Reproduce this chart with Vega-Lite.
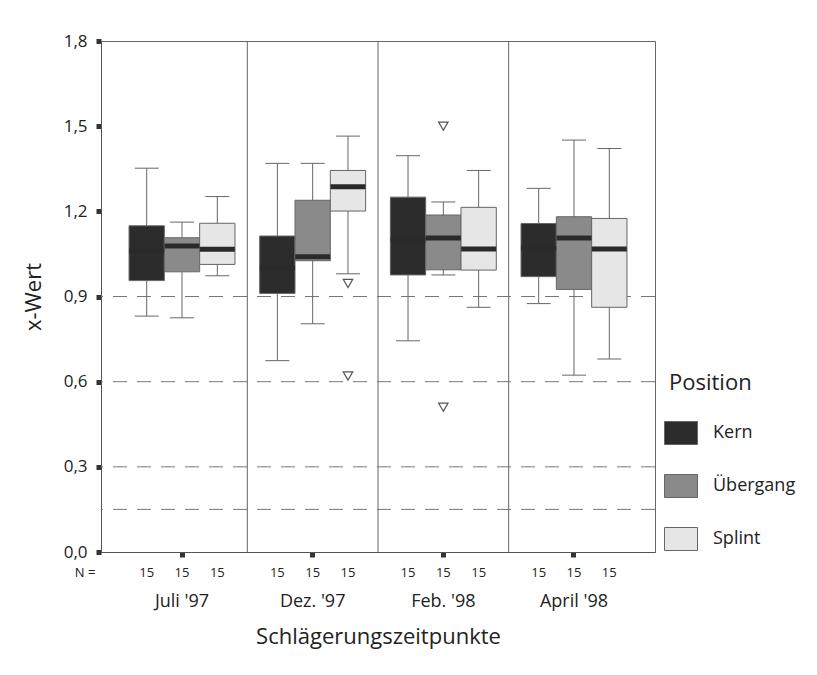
{
  "$schema": "https://vega.github.io/schema/vega-lite/v6.json",
  "width": 554,
  "height": 511,
  "autosize": {"type": "none"},
  "padding": {"left": 101, "top": 41, "right": 162, "bottom": 123},
  "background": "white",
  "config": {
    "font": "Open Sans",
    "view": {"stroke": "#666", "strokeWidth": 1},
    "axis": {"domainColor": "#555", "tickColor": "#333", "labelColor": "#222", "titleColor": "#222", "labelFont": "Open Sans", "titleFont": "Open Sans", "titleFontWeight": "normal", "grid": false},
    "axisX": {"tickSize": 5, "tickWidth": 5, "labelFontSize": 18, "labelPadding": 35, "titleFontSize": 22, "titlePadding": 16, "labelAngle": 0},
    "axisY": {"tickSize": 5, "tickWidth": 5, "labelFontSize": 17, "labelPadding": 9, "titleFontSize": 22, "titlePadding": 18},
    "legend": {"titleFontSize": 22, "titleFontWeight": "normal", "titleColor": "#222", "labelFontSize": 18, "labelColor": "#222", "titleFont": "Open Sans", "labelFont": "Open Sans"}
  },
  "datasets": {
    "boxes": [
      {"group": "Juli '97", "pos": "Kern", "lo": 0.831, "q1": 0.956, "med": 1.06, "q3": 1.149, "hi": 1.352, "n": 15},
      {"group": "Juli '97", "pos": "Übergang", "lo": 0.825, "q1": 0.987, "med": 1.078, "q3": 1.107, "hi": 1.162, "n": 15},
      {"group": "Juli '97", "pos": "Splint", "lo": 0.973, "q1": 1.013, "med": 1.066, "q3": 1.158, "hi": 1.252, "n": 15},
      {"group": "Dez. '97", "pos": "Kern", "lo": 0.674, "q1": 0.911, "med": 1.0, "q3": 1.113, "hi": 1.369, "n": 15},
      {"group": "Dez. '97", "pos": "Übergang", "lo": 0.804, "q1": 1.026, "med": 1.04, "q3": 1.239, "hi": 1.369, "n": 15},
      {"group": "Dez. '97", "pos": "Splint", "lo": 0.98, "q1": 1.201, "med": 1.287, "q3": 1.344, "hi": 1.465, "n": 15},
      {"group": "Feb. '98", "pos": "Kern", "lo": 0.744, "q1": 0.976, "med": 1.1, "q3": 1.25, "hi": 1.396, "n": 15},
      {"group": "Feb. '98", "pos": "Übergang", "lo": 0.976, "q1": 0.994, "med": 1.106, "q3": 1.187, "hi": 1.233, "n": 15},
      {"group": "Feb. '98", "pos": "Splint", "lo": 0.862, "q1": 0.993, "med": 1.067, "q3": 1.214, "hi": 1.344, "n": 15},
      {"group": "April '98", "pos": "Kern", "lo": 0.875, "q1": 0.97, "med": 1.07, "q3": 1.157, "hi": 1.281, "n": 15},
      {"group": "April '98", "pos": "Übergang", "lo": 0.623, "q1": 0.925, "med": 1.106, "q3": 1.181, "hi": 1.451, "n": 15},
      {"group": "April '98", "pos": "Splint", "lo": 0.68, "q1": 0.862, "med": 1.067, "q3": 1.175, "hi": 1.421, "n": 15}
    ],
    "outliers": [
      {"group": "Dez. '97", "pos": "Splint", "value": 0.946},
      {"group": "Dez. '97", "pos": "Splint", "value": 0.62},
      {"group": "Feb. '98", "pos": "Übergang", "value": 1.5},
      {"group": "Feb. '98", "pos": "Übergang", "value": 0.51}
    ],
    "refs": [{"y": 0.15}, {"y": 0.3}, {"y": 0.6}, {"y": 0.9}],
    "seps": [{"group": "Dez. '97"}, {"group": "Feb. '98"}, {"group": "April '98"}],
    "nlab": [{"group": "Juli '97", "label": "N ="}]
  },
  "layer": [
    {
      "data": {"name": "refs"},
      "mark": {"type": "rule", "color": "#777", "strokeWidth": 1, "strokeDash": [14, 10]},
      "encoding": {
        "y": {"field": "y", "type": "quantitative", "scale": {"domain": [0, 1.8], "nice": false, "zero": true}, "axis": {"values": [0, 0.3, 0.6, 0.9, 1.2, 1.5, 1.8], "labelExpr": "replace(format(datum.value, '.1f'), '.', ',')"}, "title": "x-Wert"}
      }
    },
    {
      "data": {"name": "seps"},
      "mark": {"type": "rule", "color": "#666", "strokeWidth": 1},
      "encoding": {
        "x": {"field": "group", "type": "nominal", "bandPosition": 0, "sort": ["Juli '97", "Dez. '97", "Feb. '98", "April '98"], "scale": {"domain": ["Juli '97", "Dez. '97", "Feb. '98", "April '98"], "paddingInner": 0, "paddingOuter": 0.12}, "title": "Schlägerungszeitpunkte"}
      }
    },
    {
      "data": {"name": "boxes"},
      "mark": {"type": "rule", "color": "#666", "strokeWidth": 1},
      "encoding": {
        "x": {"field": "group", "type": "nominal", "sort": ["Juli '97", "Dez. '97", "Feb. '98", "April '98"], "title": "Schlägerungszeitpunkte"},
        "xOffset": {"field": "pos", "type": "nominal", "sort": ["Kern", "Übergang", "Splint"], "scale": {"domain": ["Kern", "Übergang", "Splint"], "paddingInner": 0, "paddingOuter": 0.35}},
        "y": {"field": "lo", "type": "quantitative", "title": "x-Wert"},
        "y2": {"field": "hi"}
      }
    },
    {
      "data": {"name": "boxes"},
      "mark": {"type": "tick", "color": "#666", "thickness": 1, "size": 24, "opacity": 1},
      "encoding": {
        "x": {"field": "group", "type": "nominal", "sort": ["Juli '97", "Dez. '97", "Feb. '98", "April '98"], "title": "Schlägerungszeitpunkte"},
        "xOffset": {"field": "pos", "type": "nominal", "sort": ["Kern", "Übergang", "Splint"]},
        "y": {"field": "lo", "type": "quantitative", "title": "x-Wert"}
      }
    },
    {
      "data": {"name": "boxes"},
      "mark": {"type": "tick", "color": "#666", "thickness": 1, "size": 24, "opacity": 1},
      "encoding": {
        "x": {"field": "group", "type": "nominal", "sort": ["Juli '97", "Dez. '97", "Feb. '98", "April '98"], "title": "Schlägerungszeitpunkte"},
        "xOffset": {"field": "pos", "type": "nominal", "sort": ["Kern", "Übergang", "Splint"]},
        "y": {"field": "hi", "type": "quantitative", "title": "x-Wert"}
      }
    },
    {
      "data": {"name": "boxes"},
      "mark": {"type": "bar", "stroke": "#666", "strokeWidth": 1},
      "encoding": {
        "x": {"field": "group", "type": "nominal", "sort": ["Juli '97", "Dez. '97", "Feb. '98", "April '98"], "title": "Schlägerungszeitpunkte"},
        "xOffset": {"field": "pos", "type": "nominal", "sort": ["Kern", "Übergang", "Splint"]},
        "y": {"field": "q1", "type": "quantitative", "title": "x-Wert"},
        "y2": {"field": "q3"},
        "color": {
          "field": "pos", "type": "nominal", "sort": ["Kern", "Übergang", "Splint"],
          "scale": {"domain": ["Kern", "Übergang", "Splint"], "range": ["#2c2c2c", "#8a8a8a", "#e6e6e6"]},
          "title": "Position",
          "legend": {"orient": "none", "legendX": 568, "legendY": 332, "symbolType": "M-1.435,-1H1.435V1H-1.435Z", "symbolSize": 529, "symbolStrokeColor": "#666", "symbolStrokeWidth": 1, "symbolOpacity": 1, "labelOffset": 20, "rowPadding": 25, "titlePadding": 26, "padding": 0}
        },
        "opacity": {"value": 1}
      }
    },
    {
      "data": {"name": "boxes"},
      "mark": {"type": "tick", "color": "#2a2a2a", "thickness": 5, "size": 35, "opacity": 1},
      "encoding": {
        "x": {"field": "group", "type": "nominal", "sort": ["Juli '97", "Dez. '97", "Feb. '98", "April '98"], "title": "Schlägerungszeitpunkte"},
        "xOffset": {"field": "pos", "type": "nominal", "sort": ["Kern", "Übergang", "Splint"]},
        "y": {"field": "med", "type": "quantitative", "title": "x-Wert"}
      }
    },
    {
      "data": {"name": "outliers"},
      "mark": {"type": "point", "shape": "triangle-down", "filled": false, "stroke": "#555", "strokeWidth": 1.2, "size": 90, "opacity": 1},
      "encoding": {
        "x": {"field": "group", "type": "nominal", "sort": ["Juli '97", "Dez. '97", "Feb. '98", "April '98"], "title": "Schlägerungszeitpunkte"},
        "xOffset": {"field": "pos", "type": "nominal", "sort": ["Kern", "Übergang", "Splint"]},
        "y": {"field": "value", "type": "quantitative", "title": "x-Wert"}
      }
    },
    {
      "data": {"name": "boxes"},
      "mark": {"type": "text", "fontSize": 13, "color": "#222", "baseline": "middle", "dy": 21, "clip": false},
      "encoding": {
        "x": {"field": "group", "type": "nominal", "sort": ["Juli '97", "Dez. '97", "Feb. '98", "April '98"], "title": "Schlägerungszeitpunkte"},
        "xOffset": {"field": "pos", "type": "nominal", "sort": ["Kern", "Übergang", "Splint"]},
        "y": {"datum": 0, "type": "quantitative"},
        "text": {"field": "n", "type": "quantitative"}
      }
    },
    {
      "data": {"name": "nlab"},
      "mark": {"type": "text", "fontSize": 13, "color": "#222", "baseline": "middle", "dy": 21, "dx": -97},
      "encoding": {
        "x": {"field": "group", "type": "nominal", "sort": ["Juli '97", "Dez. '97", "Feb. '98", "April '98"], "title": "Schlägerungszeitpunkte"},
        "y": {"datum": 0, "type": "quantitative"},
        "text": {"field": "label", "type": "nominal"}
      }
    }
  ]
}
